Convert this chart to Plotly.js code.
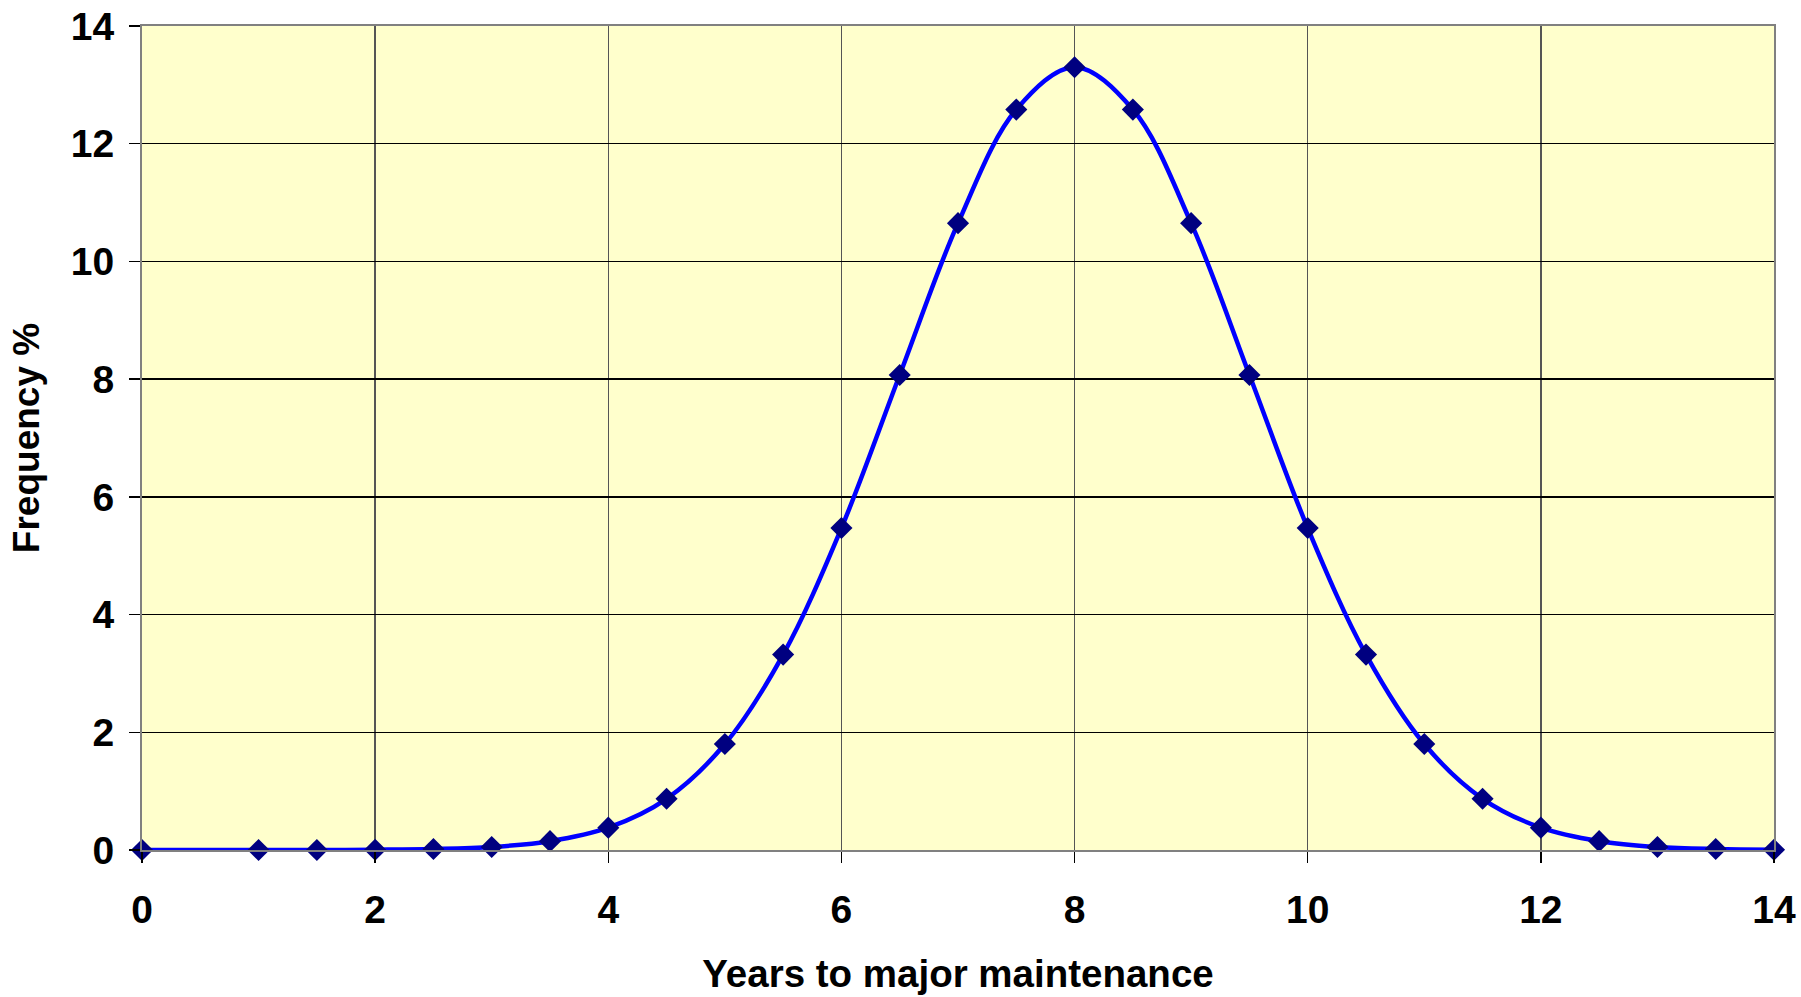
<!DOCTYPE html>
<html>
<head>
<meta charset="utf-8">
<script src="https://cdn.plot.ly/plotly-3.0.1.min.js"></script>
<style>
html,body{margin:0;padding:0;background:#fff;}
#chart{width:1801px;height:997px;}
</style>
</head>
<body>
<div id="chart"></div>
<script>
const years = [0, 1, 1.5, 2, 2.5, 3, 3.5, 4, 4.5, 5, 5.5, 6, 6.5, 7, 7.5, 8, 8.5, 9, 9.5, 10, 10.5, 11, 11.5, 12, 12.5, 13, 13.5, 14];
const frequency = [0, 0, 0, 0.005, 0.016, 0.05, 0.15, 0.38, 0.87, 1.80, 3.32, 5.47, 8.07, 10.65, 12.58, 13.30, 12.58, 10.65, 8.07, 5.47, 3.32, 1.80, 0.87, 0.38, 0.15, 0.05, 0.016, 0.005];
const xTicks = [0, 2, 4, 6, 8, 10, 12, 14];
const yTicks = [0, 2, 4, 6, 8, 10, 12, 14];
const xTitle = 'Years to major maintenance';
const yTitle = 'Frequency %';

const font = 'Liberation Sans, Arial, sans-serif';

const trace = {
  x: years,
  y: frequency,
  type: 'scatter',
  mode: 'lines+markers',
  line: {color: '#0000FF', width: 4.5, shape: 'spline', smoothing: 1},
  marker: {symbol: 'diamond', size: 17, color: '#000080', line: {width: 0}},
  cliponaxis: false,
  hoverinfo: 'x+y'
};

const layout = {
  width: 1801,
  height: 997,
  margin: {l: 142, r: 27, t: 26, b: 147},
  paper_bgcolor: '#FFFFFF',
  plot_bgcolor: '#FFFFCC',
  showlegend: false,
  font: {family: font, color: '#000000', size: 39},
  xaxis: {
    range: [0, 14],
    tickvals: xTicks,
    ticktext: xTicks.map(String),
    showgrid: true,
    gridcolor: '#555555',
    gridwidth: 1.5,
    zeroline: false,
    showline: true,
    linecolor: '#808080',
    linewidth: 2,
    mirror: true,
    ticks: 'outside',
    ticklen: 11,
    tickwidth: 1.5,
    tickcolor: '#000000',
    ticklabelstandoff: 13,
    tickfont: {family: font, size: 39, color: '#000000', weight: 'bold'},
    title: {text: xTitle, font: {family: font, size: 38.5, color: '#000000', weight: 'bold'}, standoff: 30},
    fixedrange: true
  },
  yaxis: {
    range: [0, 14],
    tickvals: yTicks,
    ticktext: yTicks.map(String),
    showgrid: true,
    gridcolor: '#000000',
    gridwidth: 1.5,
    zeroline: false,
    showline: true,
    linecolor: '#808080',
    linewidth: 2,
    mirror: true,
    ticks: 'outside',
    ticklen: 11,
    tickwidth: 1.5,
    tickcolor: '#000000',
    ticklabelstandoff: 7,
    tickfont: {family: font, size: 39, color: '#000000', weight: 'bold'},
    title: {text: yTitle, font: {family: font, size: 37, color: '#000000', weight: 'bold'}, standoff: 20},
    fixedrange: true
  }
};

Plotly.newPlot('chart', [trace], layout, {displayModeBar: false, staticPlot: true});
</script>
</body>
</html>
